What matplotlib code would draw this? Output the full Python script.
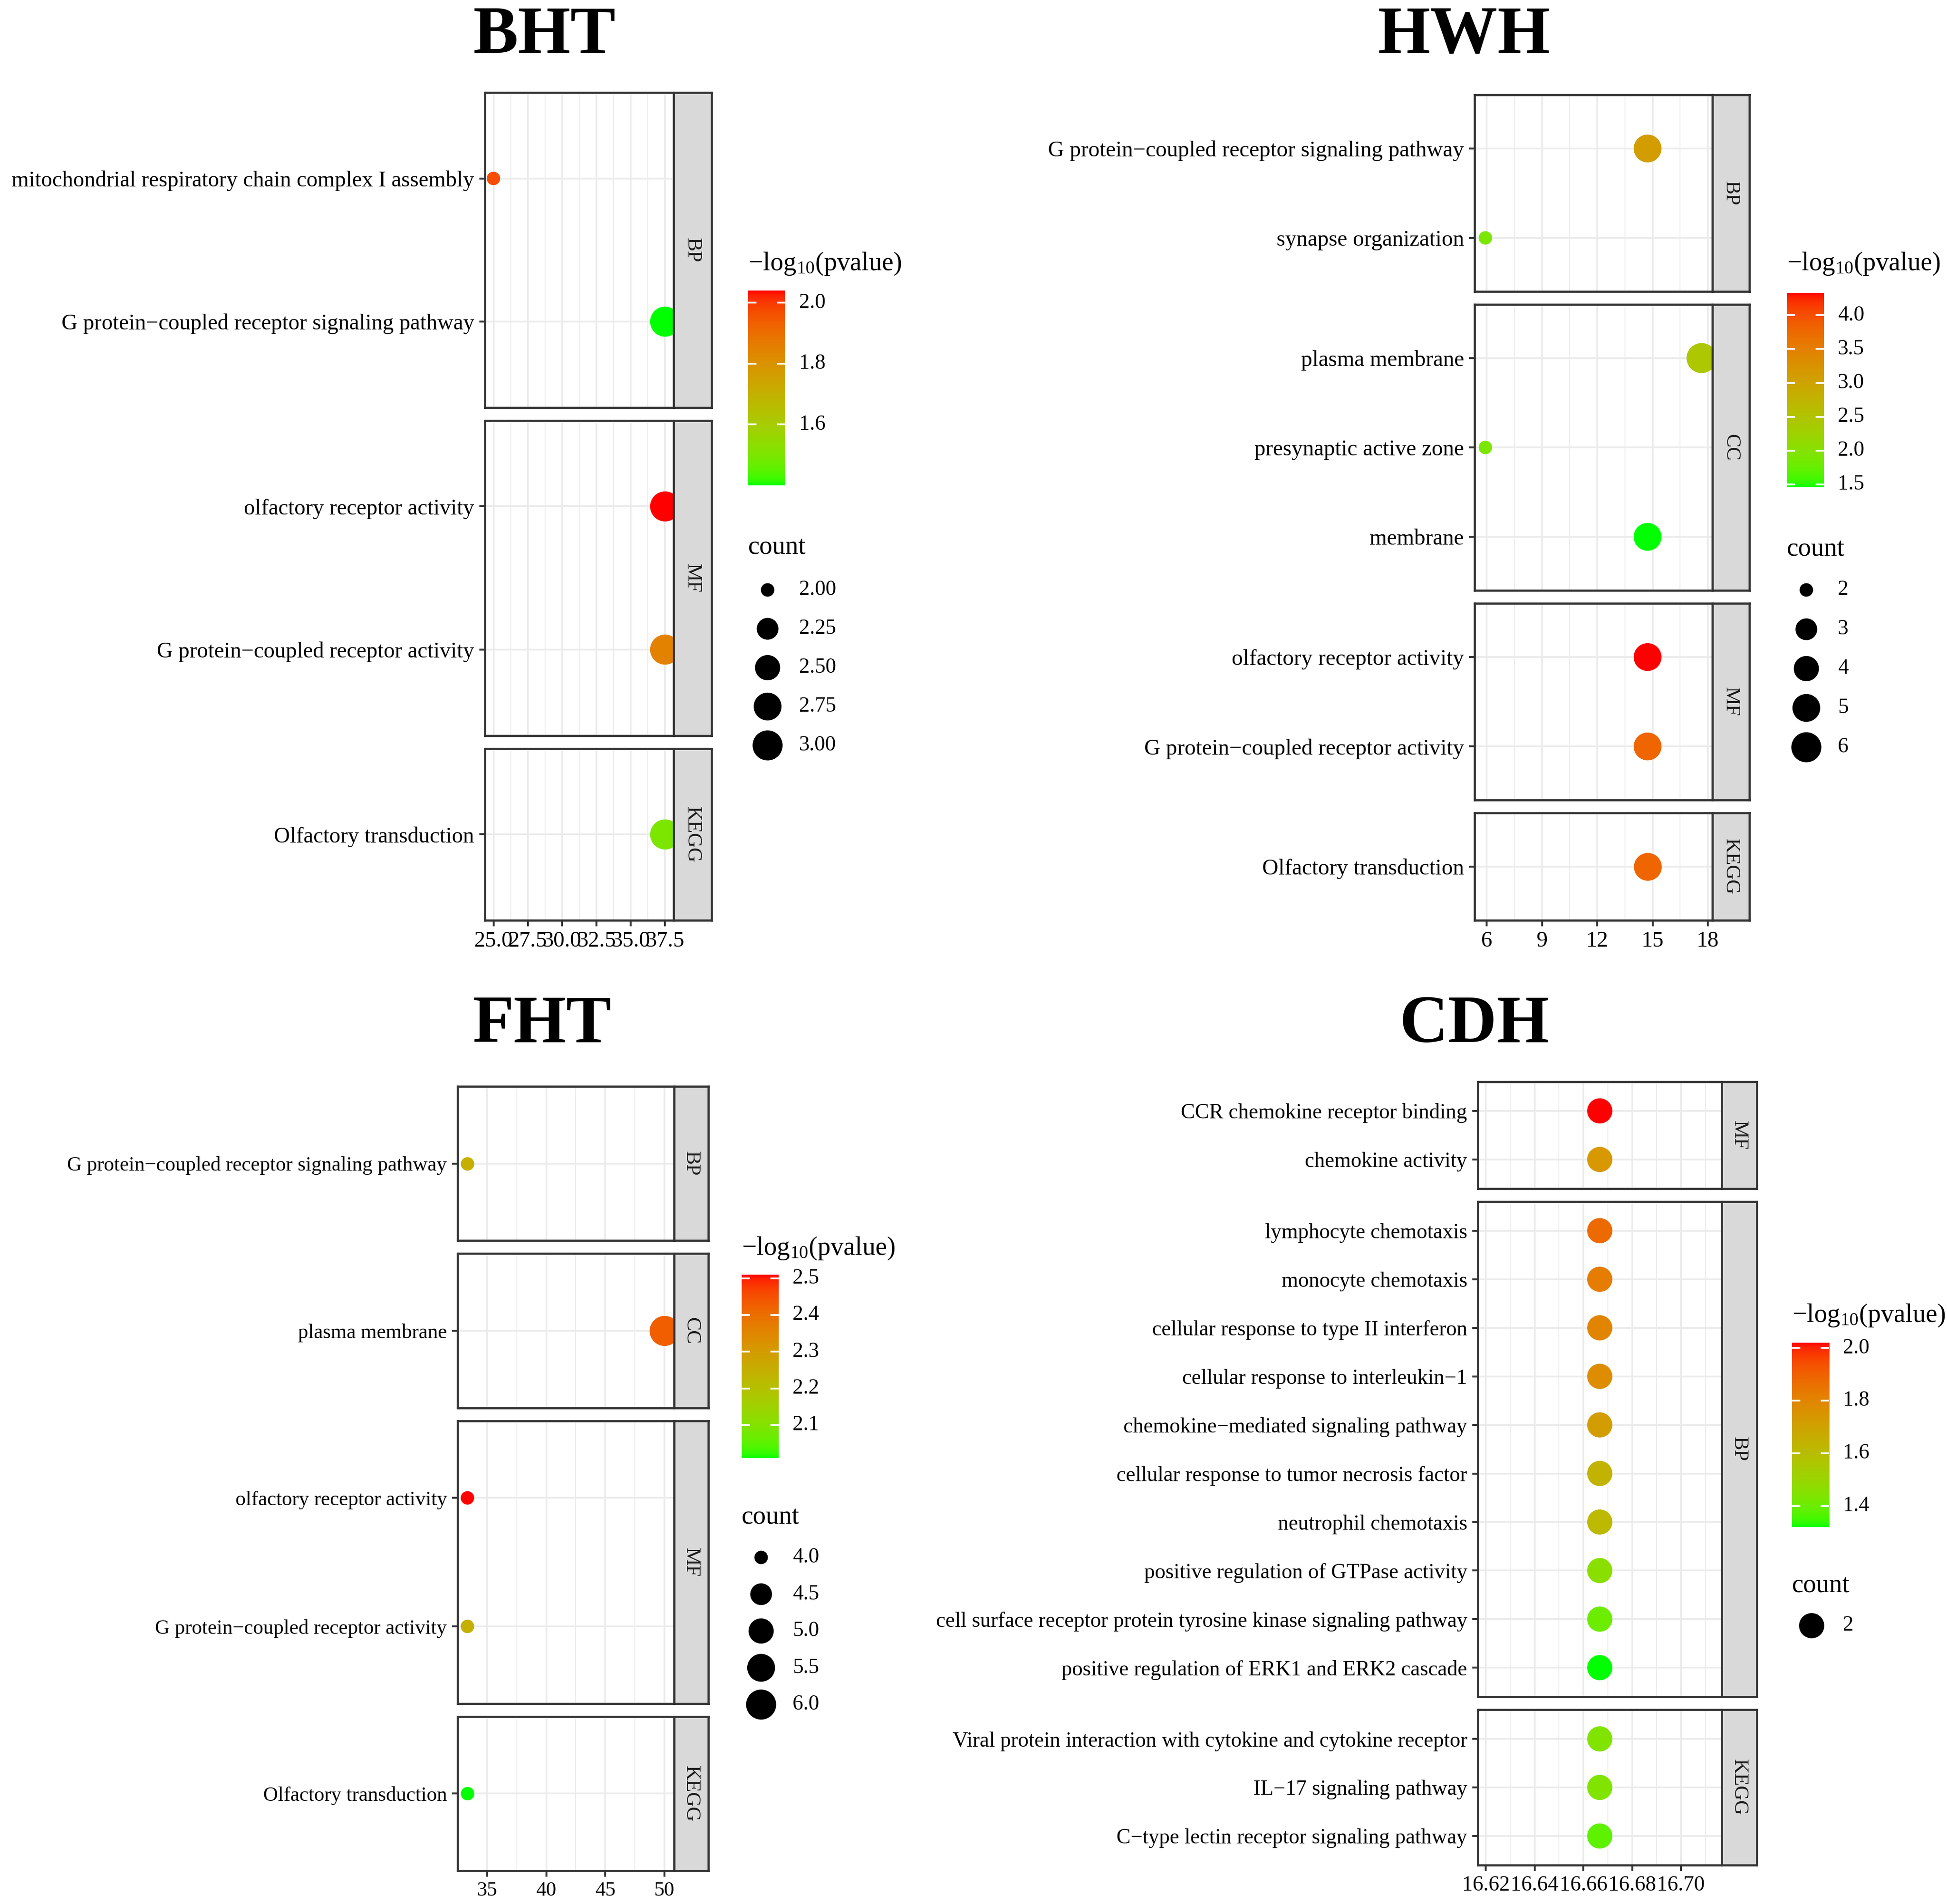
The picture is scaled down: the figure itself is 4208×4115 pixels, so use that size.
import numpy as np
import matplotlib
matplotlib.use("Agg")
import matplotlib.pyplot as plt
from matplotlib.ticker import AutoMinorLocator

W, H, DPI = 4208, 4115, 300

plt.rcParams.update({
    "font.family": ["Liberation Serif", "DejaVu Serif"],
    "mathtext.fontset": "custom",
    "mathtext.rm": "Liberation Serif",
    "mathtext.it": "Liberation Serif:italic",
    "axes.unicode_minus": True,
})

# ── data ─────────────────────────────────────────────────────────────────────
BHT_TERMS = ["mitochondrial respiratory chain complex I assembly",
             "G protein\u2212coupled receptor signaling pathway",
             "olfactory receptor activity",
             "G protein\u2212coupled receptor activity",
             "Olfactory transduction"]
BHT_CATS = ["BP", "BP", "MF", "MF", "KEGG"]
BHT_FOLD = [25.0, 37.5, 37.5, 37.5, 37.5]
BHT_COUNT = [2, 3, 3, 3, 3]
BHT_LOGP = [1.97, 1.40, 2.04, 1.85, 1.50]
BHT_XTICKS = [25.0, 27.5, 30.0, 32.5, 35.0, 37.5]
BHT_XLABELS = ["25.0", "27.5", "30.0", "32.5", "35.0", "37.5"]
BHT_CBAR = [1.6, 1.8, 2.0]
BHT_SIZES = [2.0, 2.25, 2.5, 2.75, 3.0]
BHT_SIZE_LABELS = ["2.00", "2.25", "2.50", "2.75", "3.00"]

HWH_TERMS = ["G protein\u2212coupled receptor signaling pathway",
             "synapse organization",
             "plasma membrane",
             "presynaptic active zone",
             "membrane",
             "olfactory receptor activity",
             "G protein\u2212coupled receptor activity",
             "Olfactory transduction"]
HWH_CATS = ["BP", "BP", "CC", "CC", "CC", "MF", "MF", "KEGG"]
HWH_FOLD = [14.73, 5.93, 17.66, 5.93, 14.73, 14.73, 14.73, 14.73]
HWH_COUNT = [5, 2, 6, 2, 5, 5, 5, 5]
HWH_LOGP = [3.10, 1.90, 2.45, 1.90, 1.46, 4.33, 3.80, 3.80]
HWH_XTICKS = [6, 9, 12, 15, 18]
HWH_XLABELS = ["6", "9", "12", "15", "18"]
HWH_CBAR = [1.5, 2.0, 2.5, 3.0, 3.5, 4.0]
HWH_SIZES = [2, 3, 4, 5, 6]
HWH_SIZE_LABELS = ["2", "3", "4", "5", "6"]

FHT_TERMS = ["G protein\u2212coupled receptor signaling pathway",
             "plasma membrane",
             "olfactory receptor activity",
             "G protein\u2212coupled receptor activity",
             "Olfactory transduction"]
FHT_CATS = ["BP", "CC", "MF", "MF", "KEGG"]
FHT_FOLD = [33.33, 50.0, 33.33, 33.33, 33.33]
FHT_COUNT = [4, 6, 4, 4, 4]
FHT_LOGP = [2.25, 2.43, 2.51, 2.25, 2.01]
FHT_XTICKS = [35, 40, 45, 50]
FHT_XLABELS = ["35", "40", "45", "50"]
FHT_CBAR = [2.1, 2.2, 2.3, 2.4, 2.5]
FHT_SIZES = [4.0, 4.5, 5.0, 5.5, 6.0]
FHT_SIZE_LABELS = ["4.0", "4.5", "5.0", "5.5", "6.0"]

CDH_TERMS = ["CCR chemokine receptor binding",
             "chemokine activity",
             "lymphocyte chemotaxis",
             "monocyte chemotaxis",
             "cellular response to type II interferon",
             "cellular response to interleukin\u22121",
             "chemokine\u2212mediated signaling pathway",
             "cellular response to tumor necrosis factor",
             "neutrophil chemotaxis",
             "positive regulation of GTPase activity",
             "cell surface receptor protein tyrosine kinase signaling pathway",
             "positive regulation of ERK1 and ERK2 cascade",
             "Viral protein interaction with cytokine and cytokine receptor",
             "IL\u221217 signaling pathway",
             "C\u2212type lectin receptor signaling pathway"]
CDH_CATS = ["MF"] * 2 + ["BP"] * 10 + ["KEGG"] * 3
CDH_FOLD = [16.6667] * 15
CDH_COUNT = [2] * 15
CDH_LOGP = [2.02, 1.74, 1.88, 1.83, 1.80, 1.78, 1.72, 1.64, 1.62,
            1.46, 1.40, 1.32, 1.44, 1.44, 1.38]
CDH_XTICKS = [16.62, 16.64, 16.66, 16.68, 16.70]
CDH_XLABELS = ["16.62", "16.64", "16.66", "16.68", "16.70"]
CDH_CBAR = [1.4, 1.6, 1.8, 2.0]
CDH_SIZES = [2]
CDH_SIZE_LABELS = ["2"]

# ── colour helpers (ggplot-like Lab gradient green -> red) ───────────────────
_M = np.array([[0.4124564, 0.3575761, 0.1804375],
               [0.2126729, 0.7151522, 0.0721750],
               [0.0193339, 0.1191920, 0.9503041]])
_WP = np.array([0.95047, 1.0, 1.08883])


def to_lab(rgb):
    rgb = np.asarray(rgb, float)
    lin = np.where(rgb <= 0.04045, rgb / 12.92, ((rgb + 0.055) / 1.055) ** 2.4)
    t = (lin @ _M.T) / _WP
    f = np.where(t > (6 / 29) ** 3, np.cbrt(t), t / (3 * (6 / 29) ** 2) + 4 / 29)
    return np.stack([116 * f[..., 1] - 16,
                     500 * (f[..., 0] - f[..., 1]),
                     200 * (f[..., 1] - f[..., 2])], -1)


def from_lab(lab):
    lab = np.asarray(lab, float)
    fy = (lab[..., 0] + 16) / 116
    fx = fy + lab[..., 1] / 500
    fz = fy - lab[..., 2] / 200
    f = np.stack([fx, fy, fz], -1)
    t = np.where(f > 6 / 29, f ** 3, 3 * (6 / 29) ** 2 * (f - 4 / 29))
    lin = (t * _WP) @ np.linalg.inv(_M).T
    lin = np.clip(lin, 0, 1)
    rgb = np.where(lin <= 0.0031308, lin * 12.92, 1.055 * lin ** (1 / 2.4) - 0.055)
    return np.clip(rgb, 0, 1)


LAB_LOW = to_lab([0.0, 1.0, 0.0])
LAB_HIGH = to_lab([1.0, 0.0, 0.0])


def grad(v, vmin, vmax):
    t = (np.asarray(v, float) - vmin) / (vmax - vmin)
    t = np.clip(t, 0, 1)[..., None]
    return from_lab(LAB_LOW + t * (LAB_HIGH - LAB_LOW))


fig = plt.figure(figsize=(W / DPI, H / DPI), dpi=DPI)


def rect(x, y, w, h):
    return [x / W, 1 - (y + h) / H, w / W, h / H]


def dot_area(c, cmin, cmax):
    t = 0.5 if cmax == cmin else (c - cmin) / (cmax - cmin)
    size = 2.5 + 3.5 * np.sqrt(t)
    d_px = 65 * (size * 2.845 + 0.945) / (6 * 2.845 + 0.945)
    return (d_px * 72 / DPI) ** 2


GRID = "#EBEBEB"
DARK = "#333333"


def draw_block(title, tx, tbase, terms, cats, fold, counts, logp,
               xticks, xlabels, frame, leg, cbar_ticks, sizes, size_labels, axfs):
    left, strip_l, strip_r, top, bottom = frame
    order = list(dict.fromkeys(cats))
    units = [cats.count(c) + 0.2 for c in order]
    gap = 28
    unit_px = (bottom - top - gap * (len(order) - 1)) / sum(units)

    lo, hi = min(fold), max(fold)
    if hi - lo < 1e-9:
        xlim = (lo - 0.05, hi + 0.05)
    else:
        xlim = (lo - 0.05 * (hi - lo), hi + 0.05 * (hi - lo))
    vmin, vmax = min(logp), max(logp)
    cmin, cmax = min(counts), max(counts)

    fig.text(tx / W, 1 - tbase / H, title, ha="center", va="baseline",
             fontsize=35, fontweight="bold")

    y0 = top
    for k, cat in enumerate(order):
        h = units[k] * unit_px
        ax = fig.add_axes(rect(left, y0, strip_l - left, h))
        idx = [i for i, c in enumerate(cats) if c == cat]
        n = len(idx)
        ypos = [n - j for j in range(n)]
        ax.scatter([fold[i] for i in idx], ypos,
                   s=[dot_area(counts[i], cmin, cmax) for i in idx],
                   c=grad([logp[i] for i in idx], vmin, vmax),
                   linewidths=0, zorder=3)
        ax.set_xlim(xlim)
        ax.set_ylim(0.4, n + 0.6)
        ax.set_yticks(ypos)
        ax.set_yticklabels([terms[i] for i in idx], fontsize=axfs)
        ax.set_xticks(xticks)
        ax.xaxis.set_minor_locator(AutoMinorLocator(2))
        ax.set_axisbelow(True)
        ax.grid(True, which="major", color=GRID, lw=0.9)
        ax.grid(True, which="minor", axis="x", color=GRID, lw=0.45)
        for sp in ax.spines.values():
            sp.set_color(DARK)
            sp.set_linewidth(1.1)
        ax.tick_params(axis="both", which="major", length=3.0, width=1.0,
                       color=DARK, pad=2.5, labelcolor="black")
        ax.tick_params(axis="x", which="minor", length=0)
        if k == len(order) - 1:
            ax.set_xticklabels(xlabels, fontsize=axfs)
        else:
            ax.tick_params(axis="x", which="major", length=0, labelbottom=False)

        sax = fig.add_axes(rect(strip_l, y0, strip_r - strip_l, h))
        sax.set_facecolor("#D9D9D9")
        sax.set_xticks([])
        sax.set_yticks([])
        for sp in sax.spines.values():
            sp.set_color(DARK)
            sp.set_linewidth(1.1)
        sax.text(0.5, 0.5, cat, rotation=-90, ha="center", va="center",
                 fontsize=10.5, color="#1A1A1A", transform=sax.transAxes)
        y0 += h + gap

    # legends
    lx, t1y, cb_top, cb_bot, cty, e0, step = leg
    fig.text(lx / W, 1 - t1y / H, r"$\mathregular{-log_{10}(pvalue)}$",
             ha="left", va="center", fontsize=13.5)
    cax = fig.add_axes(rect(lx, cb_top, 80, cb_bot - cb_top))
    g = np.linspace(vmin, vmax, 300)
    cax.imshow(grad(g, vmin, vmax)[:, None, :], aspect="auto", origin="lower",
               extent=[0, 1, vmin, vmax], interpolation="bilinear")
    cax.set_xlim(0, 1)
    cax.set_ylim(vmin, vmax)
    cax.axis("off")
    for b in cbar_ticks:
        cax.plot([0, 0.2], [b, b], color="white", lw=0.9)
        cax.plot([0.8, 1], [b, b], color="white", lw=0.9)
        yy = cb_bot - (b - vmin) / (vmax - vmin) * (cb_bot - cb_top)
        fig.text((lx + 110) / W, 1 - yy / H, f"{b:.1f}", ha="left",
                 va="center", fontsize=11)

    fig.text(lx / W, 1 - cty / H, "count", ha="left", va="center", fontsize=13.5)
    lax = fig.add_axes(rect(lx, e0 - 40, 200, step * (len(sizes) - 1) + 80))
    lax.set_xlim(lx, lx + 200)
    lax.set_ylim(e0 + step * (len(sizes) - 1) + 40, e0 - 40)
    lax.axis("off")
    ys = [e0 + step * i for i in range(len(sizes))]
    lax.scatter([lx + 42] * len(sizes), ys,
                s=[dot_area(s, min(sizes), max(sizes)) for s in sizes],
                color="black", linewidths=0)
    for yy, lab in zip(ys, size_labels):
        lax.text(lx + 110, yy, lab, ha="left", va="center", fontsize=11)


draw_block("BHT", 1177, 114, BHT_TERMS, BHT_CATS, BHT_FOLD, BHT_COUNT, BHT_LOGP,
           BHT_XTICKS, BHT_XLABELS, (1048, 1456, 1538, 200, 1989),
           (1617, 570, 628, 1049, 1183, 1275, 84), BHT_CBAR, BHT_SIZES,
           BHT_SIZE_LABELS, 11.5)
draw_block("HWH", 3164, 114, HWH_TERMS, HWH_CATS, HWH_FOLD, HWH_COUNT, HWH_LOGP,
           HWH_XTICKS, HWH_XLABELS, (3187, 3701, 3781, 205, 1989),
           (3862, 570, 633, 1053, 1188, 1275, 85), HWH_CBAR, HWH_SIZES,
           HWH_SIZE_LABELS, 11.6)
draw_block("FHT", 1171, 2252, FHT_TERMS, FHT_CATS, FHT_FOLD, FHT_COUNT, FHT_LOGP,
           FHT_XTICKS, FHT_XLABELS, (989, 1457, 1531, 2348, 4043),
           (1603, 2698, 2755, 3151, 3280, 3366, 79.5), FHT_CBAR, FHT_SIZES,
           FHT_SIZE_LABELS, 10.6)
draw_block("CDH", 3187, 2252, CDH_TERMS, CDH_CATS, CDH_FOLD, CDH_COUNT, CDH_LOGP,
           CDH_XTICKS, CDH_XLABELS, (3194, 3721, 3797, 2338, 4031),
           (3873, 2843, 2902, 3300, 3427, 3513, 80), CDH_CBAR, CDH_SIZES,
           CDH_SIZE_LABELS, 11.0)

fig.savefig("out.png", dpi=DPI)
